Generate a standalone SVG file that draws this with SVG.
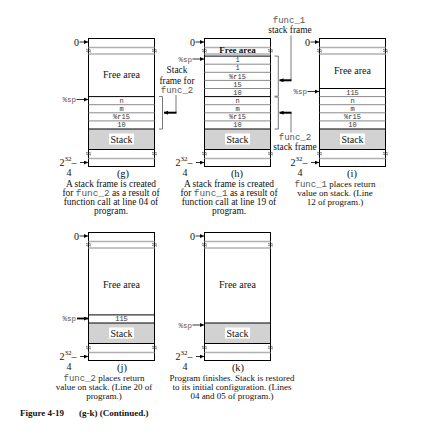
<svg xmlns="http://www.w3.org/2000/svg" xmlns:xlink="http://www.w3.org/1999/xlink" width="423" height="431" viewBox="0 0 423 431">
<style>
.bx{fill:#fff;stroke:#000;stroke-width:1}
.blk{stroke:#000;stroke-width:1}
.sep{stroke:#8a8a8a;stroke-width:1}
.gry{stroke:#b0b0b0;stroke-width:1.3}
.stk{fill:#d2d2d2;stroke:none}
.wl{fill:#fff;stroke:none}
.t{font-family:"Liberation Serif","Times New Roman",serif;font-size:9px;fill:#111}
.cap{font-size:9.4px}
.c{text-anchor:middle}
.e{text-anchor:end}
.m{font-family:"Liberation Mono","Courier New",monospace;fill:#555}
.row{font-family:"Liberation Mono","Courier New",monospace;font-size:7px;fill:#333;text-anchor:middle}
.sp{font-family:"Liberation Mono","Courier New",monospace;font-size:7.5px;fill:#555;text-anchor:end}
.ar{stroke:#000;stroke-width:0.8;fill:none}
.br{stroke:#555;stroke-width:0.8;fill:none}
.thk{stroke:#000;stroke-width:2}
.brk{fill:none;stroke:#333;stroke-width:0.7}
.fa{font-size:10px}
.lab{font-size:10.5px}
.big{font-size:10px}
.fig{font-weight:bold;font-size:9px}
</style>
<defs>
<marker id="ah" markerUnits="userSpaceOnUse" markerWidth="4" markerHeight="4" refX="4" refY="2" orient="auto">
<path d="M0,0 L4,2 L0,4 z" fill="#000"/>
</marker>
<g id="bk">
<path class="brk" d="M-2.5,-0.6 c0.8,-1.1 1.7,1.1 2.5,0 c0.8,-1.1 1.7,1.1 2.5,0"/>
<path class="brk" d="M-2.5,1.2 c0.8,-1.1 1.7,1.1 2.5,0 c0.8,-1.1 1.7,1.1 2.5,0"/>
</g>
</defs>

<!-- Panel (g) -->
<g id="panel-g">
<rect class="bx" x="88.5" y="38.5" width="66" height="128"/>
<line class="gry" x1="88.5" y1="47.5" x2="154.5" y2="47.5"/>
<line class="gry" x1="88.5" y1="54" x2="154.5" y2="54"/>
<use xlink:href="#bk" x="88.5" y="50.4"/>
<use xlink:href="#bk" x="154.5" y="50.4"/>
<text class="t c fa" x="121.5" y="77.5">Free area</text>
<line class="blk" x1="88.5" y1="96.6" x2="154.5" y2="96.6"/>
<line class="sep" x1="88.5" y1="104.7" x2="154.5" y2="104.7"/>
<line class="sep" x1="88.5" y1="112.8" x2="154.5" y2="112.8"/>
<line class="sep" x1="88.5" y1="120.9" x2="154.5" y2="120.9"/>
<text class="row" x="121.5" y="102.8">n</text>
<text class="row" x="121.5" y="110.9">m</text>
<text class="row" x="121.5" y="119">%r15</text>
<text class="row" x="121.5" y="127.1">10</text>
<rect class="stk" x="89" y="129" width="65" height="20.5"/>
<line class="blk" x1="88.5" y1="129" x2="154.5" y2="129"/>
<line class="blk" x1="88.5" y1="149.5" x2="154.5" y2="149.5"/>
<rect class="wl" x="109" y="133.5" width="25" height="11"/>
<text class="t c big" x="121.5" y="142.5">Stack</text>
<use xlink:href="#bk" x="88.5" y="153.3"/>
<use xlink:href="#bk" x="154.5" y="153.3"/>
<line class="gry" x1="88.5" y1="158.5" x2="154.5" y2="158.5"/>
<text class="t e big" x="79" y="45.5">0</text>
<line class="ar" x1="79.5" y1="42" x2="88" y2="42" marker-end="url(#ah)"/>
<text class="sp" x="76" y="102">%sp</text>
<line class="ar" x1="76.5" y1="99.5" x2="88" y2="99.5" marker-end="url(#ah)"/>
<text class="t big" x="59.5" y="165.5">2<tspan font-size="7" dy="-4.8">32</tspan><tspan dy="4.8">–</tspan></text>
<line class="ar" x1="80" y1="162.5" x2="88" y2="162.5" marker-end="url(#ah)"/>
<text class="t c big" x="69" y="176">4</text>
<text class="t c lab" x="123" y="177">(g)</text>
<text class="t c cap" x="111" y="186.5">A stack frame is created</text>
<text class="t c cap" x="111" y="195.5">for <tspan class="m">func_2</tspan> as a result of</text>
<text class="t c cap" x="111" y="204.5">function call at line 04 of</text>
<text class="t c cap" x="111" y="213.5">program.</text>
</g>

<!-- Panel (h) -->
<g id="panel-h">
<rect class="bx" x="204.5" y="38.5" width="66" height="128"/>
<line class="gry" x1="204.5" y1="47.5" x2="270.5" y2="47.5"/>
<line class="gry" x1="204.5" y1="54" x2="270.5" y2="54"/>
<use xlink:href="#bk" x="204.5" y="50.4"/>
<use xlink:href="#bk" x="270.5" y="50.4"/>
<text class="t c" x="237.5" y="53.3" font-weight="bold" font-size="8">Free area</text>
<line class="blk" x1="204.5" y1="56.1" x2="270.5" y2="56.1"/>
<line class="sep" x1="204.5" y1="64.2" x2="270.5" y2="64.2"/>
<line class="sep" x1="204.5" y1="72.3" x2="270.5" y2="72.3"/>
<line class="sep" x1="204.5" y1="80.4" x2="270.5" y2="80.4"/>
<line class="sep" x1="204.5" y1="88.5" x2="270.5" y2="88.5"/>
<line class="blk" x1="204.5" y1="96.6" x2="270.5" y2="96.6"/>
<line class="sep" x1="204.5" y1="104.7" x2="270.5" y2="104.7"/>
<line class="sep" x1="204.5" y1="112.8" x2="270.5" y2="112.8"/>
<line class="sep" x1="204.5" y1="120.9" x2="270.5" y2="120.9"/>
<text class="row" x="237.5" y="62.3">1</text>
<text class="row" x="237.5" y="70.4">1</text>
<text class="row" x="237.5" y="78.5">%r15</text>
<text class="row" x="237.5" y="86.6">15</text>
<text class="row" x="237.5" y="94.7">10</text>
<text class="row" x="237.5" y="102.8">n</text>
<text class="row" x="237.5" y="110.9">m</text>
<text class="row" x="237.5" y="119">%r15</text>
<text class="row" x="237.5" y="127.1">10</text>
<rect class="stk" x="205" y="129" width="65" height="20.5"/>
<line class="blk" x1="204.5" y1="129" x2="270.5" y2="129"/>
<line class="blk" x1="204.5" y1="149.5" x2="270.5" y2="149.5"/>
<rect class="wl" x="225" y="133.5" width="25" height="11"/>
<text class="t c big" x="237.5" y="142.5">Stack</text>
<use xlink:href="#bk" x="204.5" y="153.3"/>
<use xlink:href="#bk" x="270.5" y="153.3"/>
<line class="gry" x1="204.5" y1="158.5" x2="270.5" y2="158.5"/>
<text class="t e big" x="195" y="45.5">0</text>
<line class="ar" x1="195.5" y1="42" x2="204" y2="42" marker-end="url(#ah)"/>
<text class="sp" x="192" y="61.5">%sp</text>
<line class="ar" x1="192.5" y1="59" x2="204" y2="59" marker-end="url(#ah)"/>
<text class="t big" x="175.5" y="165.5">2<tspan font-size="7" dy="-4.8">32</tspan><tspan dy="4.8">–</tspan></text>
<line class="ar" x1="196" y1="162.5" x2="204" y2="162.5" marker-end="url(#ah)"/>
<text class="t c big" x="185" y="176">4</text>
<text class="t c lab" x="237" y="177">(h)</text>
<text class="t c cap" x="229" y="186.5">A stack frame is created</text>
<text class="t c cap" x="229" y="195.5">for <tspan class="m">func_1</tspan> as a result of</text>
<text class="t c cap" x="229" y="204.5">function call at line 19 of</text>
<text class="t c cap" x="229" y="213.5">program.</text>
</g>

<!-- Panel (i) -->
<g id="panel-i">
<rect class="bx" x="319.5" y="38.5" width="66" height="128"/>
<line class="gry" x1="319.5" y1="47.5" x2="385.5" y2="47.5"/>
<line class="gry" x1="319.5" y1="54" x2="385.5" y2="54"/>
<use xlink:href="#bk" x="319.5" y="50.4"/>
<use xlink:href="#bk" x="385.5" y="50.4"/>
<text class="t c fa" x="352.5" y="73.5">Free area</text>
<line class="blk" x1="319.5" y1="88.5" x2="385.5" y2="88.5"/>
<line class="sep" x1="319.5" y1="96.6" x2="385.5" y2="96.6"/>
<line class="sep" x1="319.5" y1="104.7" x2="385.5" y2="104.7"/>
<line class="sep" x1="319.5" y1="112.8" x2="385.5" y2="112.8"/>
<line class="sep" x1="319.5" y1="120.9" x2="385.5" y2="120.9"/>
<text class="row" x="352.5" y="94.7">115</text>
<text class="row" x="352.5" y="102.8">n</text>
<text class="row" x="352.5" y="110.9">m</text>
<text class="row" x="352.5" y="119">%r15</text>
<text class="row" x="352.5" y="127.1">10</text>
<rect class="stk" x="320" y="129" width="65" height="20.5"/>
<line class="blk" x1="319.5" y1="129" x2="385.5" y2="129"/>
<line class="blk" x1="319.5" y1="149.5" x2="385.5" y2="149.5"/>
<rect class="wl" x="340" y="133.5" width="25" height="11"/>
<text class="t c big" x="352.5" y="142.5">Stack</text>
<use xlink:href="#bk" x="319.5" y="153.3"/>
<use xlink:href="#bk" x="385.5" y="153.3"/>
<line class="gry" x1="319.5" y1="158.5" x2="385.5" y2="158.5"/>
<text class="t e big" x="310" y="45.5">0</text>
<line class="ar" x1="310.5" y1="42" x2="319" y2="42" marker-end="url(#ah)"/>
<text class="sp" x="307" y="94">%sp</text>
<line class="ar" x1="307.5" y1="91.5" x2="319" y2="91.5" marker-end="url(#ah)"/>
<text class="t big" x="290.5" y="165.5">2<tspan font-size="7" dy="-4.8">32</tspan><tspan dy="4.8">–</tspan></text>
<line class="ar" x1="311" y1="162.5" x2="319" y2="162.5" marker-end="url(#ah)"/>
<text class="t c big" x="300" y="176">4</text>
<text class="t c lab" x="352" y="177">(i)</text>
<text class="t c" x="335" y="186.5"><tspan class="m">func_1</tspan> places return</text>
<text class="t c" x="335" y="195.5">value on stack. (Line</text>
<text class="t c" x="335" y="204.5">12 of program.)</text>
</g>

<!-- Panel (j) -->
<g id="panel-j" transform="translate(0,194)">
<rect class="bx" x="88.5" y="38.5" width="66" height="128"/>
<line class="gry" x1="88.5" y1="47.5" x2="154.5" y2="47.5"/>
<line class="gry" x1="88.5" y1="54" x2="154.5" y2="54"/>
<use xlink:href="#bk" x="88.5" y="50.4"/>
<use xlink:href="#bk" x="154.5" y="50.4"/>
<text class="t c fa" x="121.5" y="93.5">Free area</text>
<line class="blk" x1="88.5" y1="120.9" x2="154.5" y2="120.9"/>
<text class="row" x="121.5" y="127.1">115</text>
<rect class="stk" x="89" y="129" width="65" height="20.5"/>
<line class="blk" x1="88.5" y1="129" x2="154.5" y2="129"/>
<line class="blk" x1="88.5" y1="149.5" x2="154.5" y2="149.5"/>
<rect class="wl" x="109" y="133.5" width="25" height="11"/>
<text class="t c big" x="121.5" y="142.5">Stack</text>
<use xlink:href="#bk" x="88.5" y="153.3"/>
<use xlink:href="#bk" x="154.5" y="153.3"/>
<line class="gry" x1="88.5" y1="158.5" x2="154.5" y2="158.5"/>
<text class="t e big" x="79" y="45.5">0</text>
<line class="ar" x1="79.5" y1="42" x2="88" y2="42" marker-end="url(#ah)"/>
<text class="sp" x="76" y="127">%sp</text>
<line class="ar" x1="77" y1="124.5" x2="88" y2="124.5" style="stroke-width:1.8" marker-end="url(#ah)"/>
<text class="t big" x="59.5" y="165.5">2<tspan font-size="7" dy="-4.8">32</tspan><tspan dy="4.8">–</tspan></text>
<line class="ar" x1="80" y1="162.5" x2="88" y2="162.5" marker-end="url(#ah)"/>
<text class="t c big" x="69" y="176">4</text>
<text class="t c lab" x="122" y="177">(j)</text>
<text class="t c" x="104" y="186.5"><tspan class="m">func_2</tspan> places return</text>
<text class="t c" x="104" y="195.5">value on stack. (Line 20 of</text>
<text class="t c" x="104" y="204.5">program.)</text>
</g>

<!-- Panel (k) -->
<g id="panel-k" transform="translate(0,194)">
<rect class="bx" x="204.5" y="38.5" width="66" height="128"/>
<line class="gry" x1="204.5" y1="47.5" x2="270.5" y2="47.5"/>
<line class="gry" x1="204.5" y1="54" x2="270.5" y2="54"/>
<use xlink:href="#bk" x="204.5" y="50.4"/>
<use xlink:href="#bk" x="270.5" y="50.4"/>
<text class="t c fa" x="237.5" y="93.5">Free area</text>
<rect class="stk" x="205" y="129" width="65" height="20.5"/>
<line class="blk" x1="204.5" y1="129" x2="270.5" y2="129"/>
<line class="blk" x1="204.5" y1="149.5" x2="270.5" y2="149.5"/>
<rect class="wl" x="225" y="133.5" width="25" height="11"/>
<text class="t c big" x="237.5" y="142.5">Stack</text>
<use xlink:href="#bk" x="204.5" y="153.3"/>
<use xlink:href="#bk" x="270.5" y="153.3"/>
<line class="gry" x1="204.5" y1="158.5" x2="270.5" y2="158.5"/>
<text class="t e big" x="195" y="45.5">0</text>
<line class="ar" x1="195.5" y1="42" x2="204" y2="42" marker-end="url(#ah)"/>
<text class="sp" x="192" y="133.5">%sp</text>
<line class="ar" x1="192.5" y1="131" x2="204" y2="131" marker-end="url(#ah)"/>
<text class="t big" x="175.5" y="165.5">2<tspan font-size="7" dy="-4.8">32</tspan><tspan dy="4.8">–</tspan></text>
<line class="ar" x1="196" y1="162.5" x2="204" y2="162.5" marker-end="url(#ah)"/>
<text class="t c big" x="185" y="176">4</text>
<text class="t c lab" x="238" y="177">(k)</text>
<text class="t c" x="232" y="186.5">Program finishes.  Stack is restored</text>
<text class="t c" x="232" y="195.5">to its initial configuration.  (Lines</text>
<text class="t c" x="232" y="204.5">04 and 05 of program.)</text>
</g>

<!-- Callout labels -->
<g id="label-func2-frame-g">
<text class="t c cap" x="177" y="73">Stack</text>
<text class="t c cap" x="177" y="83.5">frame for</text>
<text class="t c m" x="177" y="93" font-size="8.5">func_2</text>
</g>
<g id="label-func1-frame-h">
<text class="t c m" x="289" y="22.5" font-size="8.5">func_1</text>
<text class="t c cap" x="290" y="32.5">stack frame</text>
</g>
<g id="label-func2-frame-h">
<text class="t c m" x="295" y="140" font-size="8.5">func_2</text>
<text class="t c cap" x="295" y="150">stack frame</text>
</g>

<!-- Connectors -->
<g id="connectors">
<path class="br" d="M159,96.6 H162.5 V129 H159"/>
<line class="br" x1="176" y1="95" x2="176" y2="112.7"/>
<line class="thk" x1="176.5" y1="112.7" x2="164" y2="112.7" marker-end="url(#ah)"/>
<path class="br" d="M274.5,56.1 H278.3 V96.2 H274.5"/>
<path class="br" d="M274.5,97 H278.3 V129 H274.5"/>
<line class="br" x1="291" y1="35.5" x2="291" y2="80.3"/>
<line class="thk" x1="291.5" y1="80.3" x2="279.5" y2="80.3" marker-end="url(#ah)"/>
<line class="br" x1="291" y1="112.7" x2="291" y2="132.5"/>
<line class="thk" x1="291.5" y1="112.7" x2="279.5" y2="112.7" marker-end="url(#ah)"/>
</g>

<g id="figure-caption">
<text class="t fig" x="20" y="416">Figure 4-19</text>
<text class="t fig" x="79" y="416">(g-k) (Continued.)</text>
</g>
</svg>
